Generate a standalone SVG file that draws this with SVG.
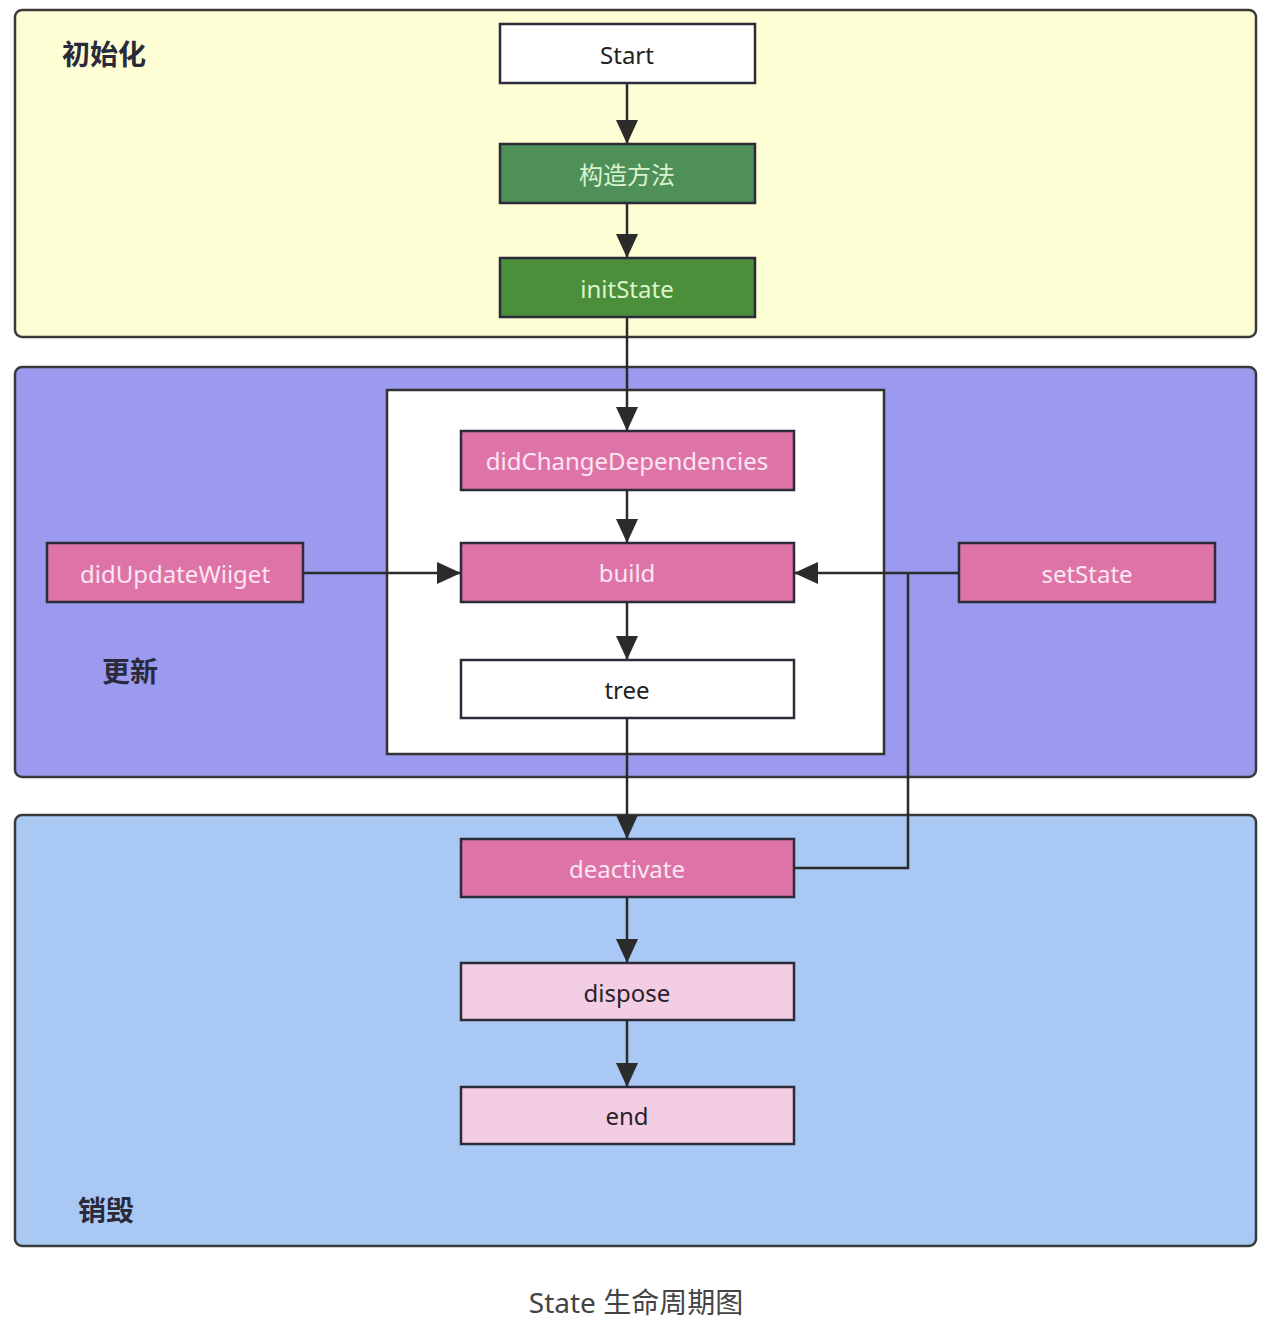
<svg xmlns="http://www.w3.org/2000/svg" width="1272" height="1322" viewBox="0 0 1272 1322">
<style>
.band{stroke:#3a3a3a;stroke-width:2.5}
.node{stroke:#2b2b3a;stroke-width:2.5}
.t{font-family:"Noto Sans","Noto Sans CJK SC",sans-serif;font-size:24px;text-anchor:middle;dominant-baseline:central}
.lab{font-family:"Noto Sans CJK SC","Noto Sans",sans-serif;font-size:28px;font-weight:bold;fill:#2a2a3a}
.edge{stroke:#2b2b2b;stroke-width:2.5;fill:none}
.pink{fill:#de73a7}
.pinkt{fill:#fbe6f1}
.lpink{fill:#f2cde4}
</style>
<defs>
<marker id="arrL" viewBox="0 0 24 22" refX="24" refY="11" markerWidth="24" markerHeight="22" markerUnits="userSpaceOnUse" orient="auto">
<path d="M0,0 L24,11 L0,22 z" fill="#2b2b2b"/>
</marker>
</defs>
<rect width="1272" height="1322" fill="#ffffff"/>
<g id="band-init"><rect class="band" x="15" y="10" width="1241" height="327" rx="7" fill="#fefed4"/><text class="lab" x="62" y="65">初始化</text></g>
<g id="band-update"><rect class="band" x="15" y="367" width="1241" height="410" rx="7" fill="#9b9aef"/><text class="lab" x="102" y="682">更新</text></g>
<g id="band-destroy"><rect class="band" x="15" y="815" width="1241" height="431" rx="7" fill="#aac8f4"/><text class="lab" x="78" y="1221">销毁</text></g>
<g id="inner-box"><rect x="387" y="390" width="497" height="364" fill="#ffffff" stroke="#333" stroke-width="2.5"/></g>
<g id="connectors">
<line class="edge" x1="627" y1="83" x2="627" y2="144" marker-end="url(#arrL)"/>
<line class="edge" x1="627" y1="203" x2="627" y2="258" marker-end="url(#arrL)"/>
<line class="edge" x1="627" y1="317" x2="627" y2="431" marker-end="url(#arrL)"/>
<line class="edge" x1="627" y1="490" x2="627" y2="543" marker-end="url(#arrL)"/>
<line class="edge" x1="627" y1="602" x2="627" y2="660" marker-end="url(#arrL)"/>
<line class="edge" x1="627" y1="718" x2="627" y2="839" marker-end="url(#arrL)"/>
<line class="edge" x1="627" y1="897" x2="627" y2="963" marker-end="url(#arrL)"/>
<line class="edge" x1="627" y1="1020" x2="627" y2="1087" marker-end="url(#arrL)"/>
<line class="edge" x1="303" y1="573" x2="461" y2="573" marker-end="url(#arrL)"/>
<line class="edge" x1="959" y1="573" x2="794" y2="573" marker-end="url(#arrL)"/>
<polyline class="edge" points="794,868 908,868 908,573"/>
</g>
<g id="n-start"><rect class="node" x="500" y="24" width="255" height="59" fill="#ffffff"/><text class="t" x="627" y="54" fill="#222">Start</text></g>
<g id="n-ctor"><rect class="node" x="500" y="144" width="255" height="59" fill="#4f9058"/><text class="t" x="627" y="174" fill="#d9f3cf">构造方法</text></g>
<g id="n-initState"><rect class="node" x="500" y="258" width="255" height="59" fill="#4b8f3b"/><text class="t" x="627" y="288" fill="#dcf5cc">initState</text></g>
<g id="n-didChange"><rect class="node pink" x="461" y="431" width="333" height="59"/><text class="t pinkt" x="627" y="460">didChangeDependencies</text></g>
<g id="n-build"><rect class="node pink" x="461" y="543" width="333" height="59"/><text class="t pinkt" x="627" y="572">build</text></g>
<g id="n-tree"><rect class="node" x="461" y="660" width="333" height="58" fill="#ffffff"/><text class="t" x="627" y="689" fill="#222">tree</text></g>
<g id="n-didUpdate"><rect class="node pink" x="47" y="543" width="256" height="59"/><text class="t pinkt" x="175" y="573">didUpdateWiiget</text></g>
<g id="n-setState"><rect class="node pink" x="959" y="543" width="256" height="59"/><text class="t pinkt" x="1087" y="573">setState</text></g>
<g id="n-deactivate"><rect class="node pink" x="461" y="839" width="333" height="58"/><text class="t pinkt" x="627" y="868">deactivate</text></g>
<g id="n-dispose"><rect class="node lpink" x="461" y="963" width="333" height="57"/><text class="t" x="627" y="992" fill="#2a1f2a">dispose</text></g>
<g id="n-end"><rect class="node lpink" x="461" y="1087" width="333" height="57"/><text class="t" x="627" y="1115" fill="#2a1f2a">end</text></g>
<text x="636" y="1302" font-family="Noto Sans,Noto Sans CJK SC,sans-serif" font-size="28" fill="#444" text-anchor="middle" dominant-baseline="central">State 生命周期图</text>
</svg>
